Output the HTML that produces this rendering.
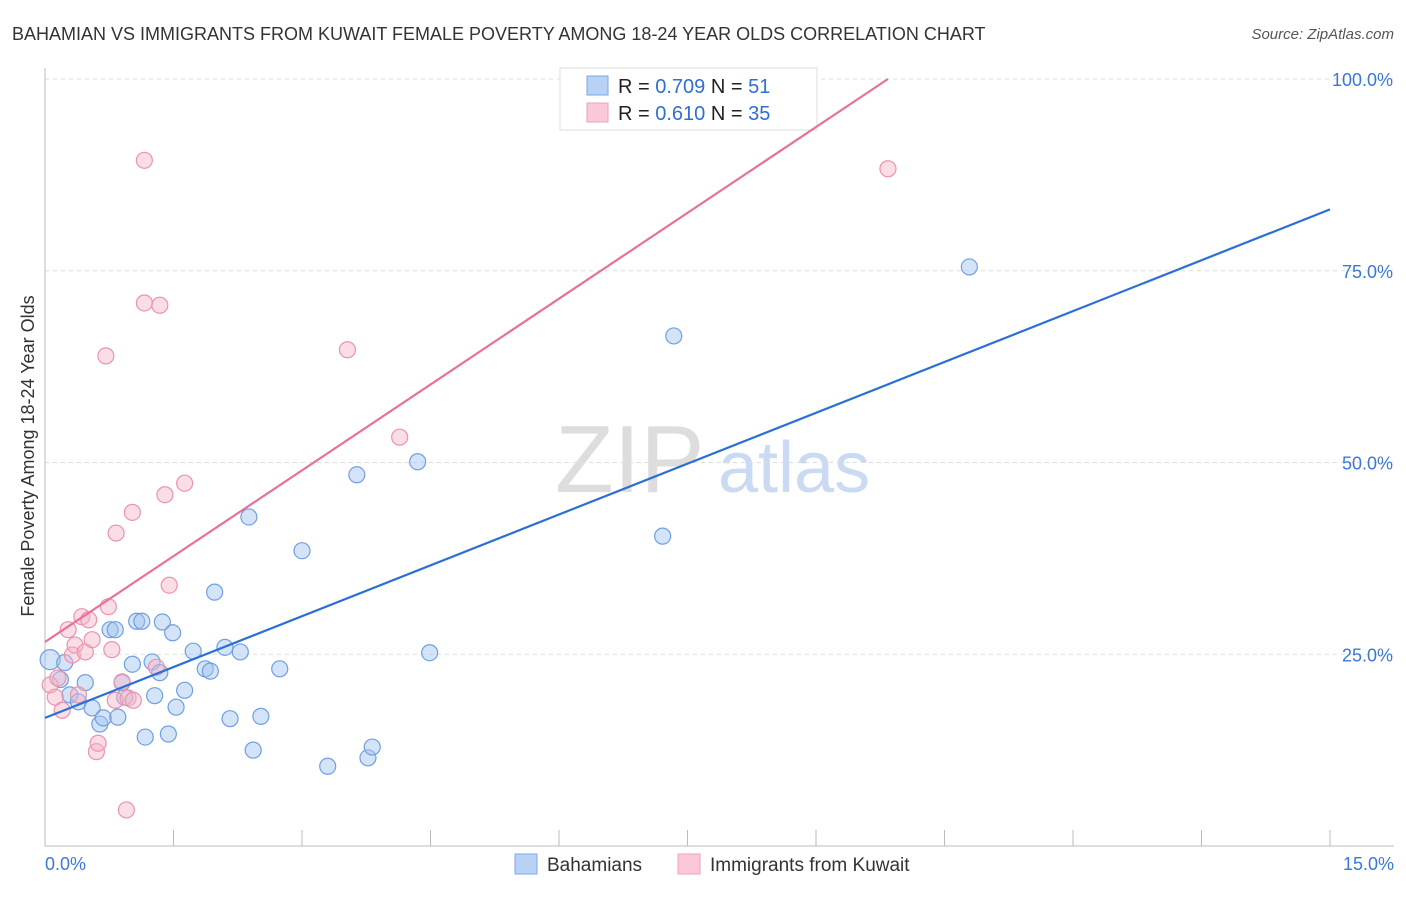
<!DOCTYPE html>
<html><head><meta charset="utf-8"><style>
body{margin:0;background:#fff;font-family:"Liberation Sans",sans-serif}
svg text{font-family:"Liberation Sans",sans-serif}
</style></head><body>
<svg id="c" width="1406" height="892" xmlns="http://www.w3.org/2000/svg">
<text x="12" y="40" font-size="18" fill="#333">BAHAMIAN VS IMMIGRANTS FROM KUWAIT FEMALE POVERTY AMONG 18-24 YEAR OLDS CORRELATION CHART</text>
<text x="1394" y="39" font-size="15" fill="#555" text-anchor="end" font-style="italic">Source: ZipAtlas.com</text>
<text transform="translate(34,456) rotate(-90)" font-size="18" fill="#333" text-anchor="middle">Female Poverty Among 18-24 Year Olds</text>
<text x="555" y="492" font-size="96" fill="#ddd" font-family="Liberation Serif">ZIP</text>
<text x="718" y="492" font-size="72" fill="#c9daf2">atlas</text>
<g id="grid"></g><g id="lines"></g><g id="pts"></g>
<g>
<rect x="560" y="68" width="257" height="62" fill="#fff" stroke="#ddd"/>
<rect x="587" y="76" width="21" height="19" fill="#b8d2f5" stroke="#7aa8e6"/>
<rect x="587" y="103" width="21" height="19" fill="#fac8d7" stroke="#f0a0b8"/>
<text x="618" y="93" font-size="20" fill="#222">R = <tspan fill="#2f6fd0">0.709</tspan>   N = <tspan fill="#2f6fd0"> 51</tspan></text>
<text x="618" y="120" font-size="20" fill="#222">R = <tspan fill="#2f6fd0"> 0.610</tspan>   N = <tspan fill="#2f6fd0">35</tspan></text>
</g>
<g>
<rect x="515" y="854" width="22" height="20" fill="#b8d2f5" stroke="#7aa8e6"/>
<text x="547" y="871" font-size="19" fill="#333">Bahamians</text>
<rect x="678" y="854" width="22" height="20" fill="#fac8d7" stroke="#f0a0b8"/>
<text x="710" y="871" font-size="19" fill="#333">Immigrants from Kuwait</text>
</g>
</svg>
<script>
const yTicks=[25,50,75,100];
const yTickLabels=["25.0%","50.0%","75.0%","100.0%"];
const xTickLabels=["0.0%","15.0%"];
const blueX=[0.06,0.18,0.23,0.29,0.39,0.47,0.55,0.64,0.68,0.76,0.82,0.85,0.90,0.93,1.02,1.07,1.13,1.17,1.25,1.28,1.34,1.37,1.44,1.49,1.53,1.63,1.73,1.87,1.93,1.98,2.10,2.16,2.28,2.38,2.43,2.52,2.74,3.00,3.30,3.64,3.77,3.82,4.35,4.49,7.21,7.34,10.79];
const blueY=[24.3,21.7,23.9,19.7,18.8,21.3,18.0,15.9,16.7,28.2,28.2,16.8,21.3,19.4,23.7,29.3,29.3,14.2,24.0,19.6,22.6,29.2,14.6,27.8,18.1,20.3,25.4,23.1,22.8,33.1,25.9,16.6,25.3,42.9,12.5,16.9,23.1,38.5,10.4,48.4,11.5,12.9,50.1,25.2,40.4,66.5,75.5];
const pinkX=[0.06,0.12,0.15,0.20,0.27,0.32,0.35,0.39,0.43,0.47,0.51,0.55,0.60,0.62,0.71,0.74,0.78,0.82,0.90,0.97,1.02,1.03,1.16,1.16,1.30,1.34,1.40,1.45,1.63,0.95,0.83,3.53,4.14,9.84];
const pinkY=[21.0,19.4,21.9,17.7,28.2,24.9,26.2,19.7,29.9,25.3,29.5,26.9,12.3,13.4,63.9,31.2,25.6,19.0,21.4,19.3,43.5,19.0,89.4,70.8,23.3,70.5,45.8,34.0,47.3,4.7,40.8,64.7,53.3,88.3];
const blueLine=[[0,16.7],[15,83.0]];
const pinkLine=[[0,26.6],[9.84,100]];
const NS="http://www.w3.org/2000/svg";
const X=v=>45+v/15*1285, Y=v=>846-v*7.67;
function mk(t,a,p){const e=document.createElementNS(NS,t);for(const k in a)e.setAttribute(k,a[k]);p.appendChild(e);return e;}
const grid=document.getElementById('grid');
yTicks.forEach((t,i)=>{
 const l=mk('line',{x1:45,x2:1394,y1:Y(t),y2:Y(t),stroke:'#ddd','stroke-dasharray':'4,4'},grid);
 
 
 const tx=mk('text',{x:1393,y:Y(t)+7,'font-size':18,fill:'#3a78d8','text-anchor':'end'},grid);
 tx.textContent=yTickLabels[i];
 
 
});
let ax=mk('line',{x1:45,x2:1394,y1:846,y2:846,stroke:'#bbb'},grid);


let ay=mk('line',{x1:45,x2:45,y1:68,y2:846,stroke:'#bbb'},grid);


for(let i=1;i<=10;i++){const t=mk('line',{x1:X(i*1.5),x2:X(i*1.5),y1:830,y2:846,stroke:'#bbb'},grid);
 
 }
[[0,'start',45],[1,'end',1394]].forEach(([i,a,x])=>{const t=mk('text',{x:x,y:870,'font-size':18,fill:'#3a78d8','text-anchor':a},grid);t.textContent=xTickLabels[i];
 
 });
const pts=document.getElementById('pts');
blueX.forEach((x,i)=>{const c=mk('circle',{cx:X(x),cy:Y(blueY[i]),r:i==0?10:8,fill:'rgba(160,195,240,0.45)',stroke:'#6f9fe0','stroke-width':1.2},pts);
 
 });
pinkX.forEach((x,i)=>{const c=mk('circle',{cx:X(x),cy:Y(pinkY[i]),r:8,fill:'rgba(247,180,200,0.45)',stroke:'#eb93ad','stroke-width':1.2},pts);
 
 });
const lines=document.getElementById('lines');
let b=mk('line',{x1:X(blueLine[0][0]),y1:Y(blueLine[0][1]),x2:X(blueLine[1][0]),y2:Y(blueLine[1][1]),stroke:'#2b6fd6','stroke-width':2.2},document.getElementById('c'));


let p=mk('line',{x1:X(pinkLine[0][0]),y1:Y(pinkLine[0][1]),x2:X(pinkLine[1][0]),y2:Y(pinkLine[1][1]),stroke:'#e8709a','stroke-width':2.2},document.getElementById('c'));


</script>
</body></html>
